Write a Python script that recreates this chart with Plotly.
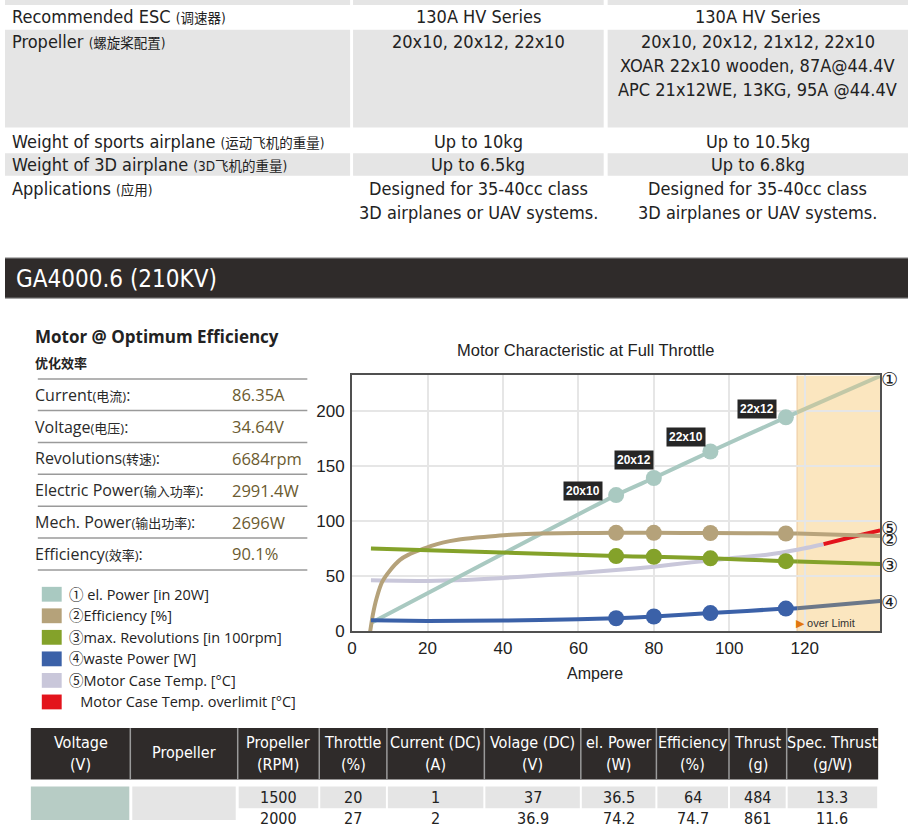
import plotly.graph_objects as go

W, H = 908, 830   # figure size; design coordinates are reference pixels

# ---------------- data ----------------
x_ticks = [0, 20, 40, 60, 80, 100, 120]
y_ticks = [0, 50, 100, 150, 200]
overlimit_start = 118
x_max = 140
y_max = 232

marker_amps = [70, 80, 95, 115]
prop_labels = ["20x10", "20x12", "22x10", "22x12"]

el_power_x = [5, 70, 80, 95, 115, 118]
el_power_y = [7.5, 123.5, 139, 163, 194, 198.5]
el_power_over_x = [118, 140]
el_power_over_y = [198.5, 231.5]
el_power_pts = [123.5, 139, 163, 194]

eff_x = [4.8, 5.5, 6.5, 8, 10, 12.7, 15, 18, 21, 24, 28, 33, 38, 42, 50, 60, 70, 80, 95, 115, 118]
eff_y = [0, 15, 30, 45, 55, 64.8, 69.5, 73.7, 77.5, 80.4, 83, 85, 86.5, 87.5, 88.7, 89.1, 89.3, 89.3, 89.1, 88.7, 88.6]
eff_over_x = [118, 140]
eff_over_y = [88.6, 86.5]
eff_pts = [89.3, 89.3, 89.1, 88.7]

rev_x = [5, 70, 80, 95, 115, 118]
rev_y = [75, 68.2, 67.6, 66.2, 63.6, 63.3]
rev_over_x = [118, 140]
rev_over_y = [63.3, 61]
rev_pts = [68.2, 67.6, 66.2, 63.6]

waste_x = [5, 20, 40, 60, 70, 80, 95, 115, 118]
waste_y = [10, 9.3, 9.8, 11, 11.8, 13.4, 16.5, 20.6, 21]
waste_over_x = [118, 140]
waste_over_y = [21, 27.5]
waste_pts = [11.8, 13.4, 16.5, 20.6]

temp_x = [5, 20, 30, 40, 50, 60, 70, 80, 90, 100, 110, 118, 125]
temp_y = [46.3, 45.7, 46.5, 48.4, 50.5, 52.9, 55.5, 58.5, 62.5, 66, 69.5, 74, 79]
temp_over_x = [125, 132, 140]
temp_over_y = [79, 85, 91.5]

curve_tags = ["①", "⑤", "②", "③", "④"]
curve_tag_y = [229, 94, 83.5, 60, 27]

opt_title = "Motor @ Optimum Efficiency"
opt_title_cn = "优化效率"
opt_labels = ["Current", "Voltage", "Revolutions", "Electric Power", "Mech. Power", "Efficiency"]
opt_cn = ["电流", "电压", "转速", "输入功率", "输出功率", "效率"]
opt_values = ["86.35A", "34.64V", "6684rpm", "2991.4W", "2696W", "90.1%"]

legend_names = ["① el. Power [in 20W]", "②Efficiency [%]", "③max. Revolutions [in 100rpm]",
                "④waste Power [W]", "⑤Motor Case Temp. [°C]", "&nbsp;&nbsp;&nbsp;Motor Case Temp. overlimit [°C]"]

spec_rows = [
    ("Recommended ESC", "调速器", ["130A HV Series"], ["130A HV Series"]),
    ("Propeller", "螺旋桨配置", ["20x10, 20x12, 22x10"],
     ["20x10, 20x12, 21x12, 22x10", "XOAR 22x10 wooden, 87A@44.4V", "APC 21x12WE, 13KG, 95A @44.4V"]),
    ("Weight of sports airplane", "运动飞机的重量", ["Up to 10kg"], ["Up to 10.5kg"]),
    ("Weight of 3D airplane", "3D飞机的重量", ["Up to 6.5kg"], ["Up to 6.8kg"]),
    ("Applications", "应用", ["Designed for 35-40cc class", "3D airplanes or UAV systems."],
     ["Designed for 35-40cc class", "3D airplanes or UAV systems."]),
]
banner_text = "GA4000.6 (210KV)"

table_header = [("Voltage", "(V)"), ("Propeller", ""), ("Propeller", "(RPM)"), ("Throttle", "(%)"),
                ("Current (DC)", "(A)"), ("Volage (DC)", "(V)"), ("el. Power", "(W)"),
                ("Efficiency", "(%)"), ("Thrust", "(g)"), ("Spec. Thrust", "(g/W)")]
table_row1 = ["1500", "20", "1", "37", "36.5", "64", "484", "13.3"]
table_row2 = ["2000", "27", "2", "36.9", "74.2", "74.7", "861", "11.6"]

# ---------------- styles ----------------
C_TEAL = "#a9c9c1"
C_TAN = "#b5a27a"
C_GREEN = "#84a22a"
C_BLUE = "#3b61a8"
C_LAV = "#c9c7da"
C_RED = "#e3141c"
COND = "Liberation Sans Narrow, DejaVu Sans Condensed, Roboto, Noto Sans CJK SC, sans-serif"
HUM = "Open Sans, Noto Sans, Noto Sans CJK SC, sans-serif"
ARIAL = "Liberation Sans, Arial, sans-serif"
GRAY = "#e5e5e5"
LPAD = 5  # annotation inner padding compensation for left-anchored texts


def px(x):
    return x / W


def py(y):
    return 1 - y / H


shapes = []
annots = []


def rect(x0, y0, x1, y1, color, layer="below"):
    shapes.append(dict(type="rect", xref="paper", yref="paper", x0=px(x0), x1=px(x1),
                       y0=py(y1), y1=py(y0), fillcolor=color, line=dict(width=0), layer=layer))


def hline(x0, x1, y, color, width=1.5):
    shapes.append(dict(type="line", xref="paper", yref="paper", x0=px(x0), x1=px(x1),
                       y0=py(y), y1=py(y), line=dict(color=color, width=width)))


def vline(x, y0, y1, color, width=1.5):
    shapes.append(dict(type="line", xref="paper", yref="paper", x0=px(x), x1=px(x),
                       y0=py(y0), y1=py(y1), line=dict(color=color, width=width)))


def text(x, y, s, size, color="#222", anchor="left", family=COND, bold=False):
    if bold:
        s = "<b>" + s + "</b>"
    if anchor == "left":
        x = x - LPAD
    annots.append(dict(xref="paper", yref="paper", x=px(x), y=py(y), text=s, showarrow=False,
                       xanchor=anchor, yanchor="middle",
                       font=dict(size=size, color=color, family=family)))


# ---------- top spec table ----------
col_mid = [476, 757]
rect(0, 0, 347, 5, GRAY); rect(350, 0, 602, 5, GRAY); rect(606, 0, W, 5, GRAY)
row_bounds = [(5, 30, False), (30, 129, True), (131, 154, False), (155, 178, True), (179, 230, False)]
for (label, cn, mid, right), (y0, y1, grey) in zip(spec_rows, row_bounds):
    if grey:
        rect(0, y0, 347, y1, GRAY); rect(350, y0, 602, y1, GRAY); rect(606, y0, W, y1, GRAY)
    ty = y0 + 12
    text(10, ty, f"{label} <span style='font-size:13.5px'>({cn})</span>", 18, "#222")
    for i, s in enumerate(mid):
        text(col_mid[0], ty + 24.5 * i, s, 18, "#222", "center")
    for i, s in enumerate(right):
        text(col_mid[1], ty + 24.5 * i, s, 18, "#222", "center")

# ---------- banner ----------
rect(0, 261, W, 302, "#2f2b2a")
hline(0, W, 261.5, "#6a6a6a", 1)
hline(0, W, 301.5, "#6a6a6a", 1)
text(14, 282, banner_text, 24, "#ffffff")

# ---------- left info panel ----------
text(33, 341, opt_title, 17, "#222", family=HUM, bold=True)
text(33, 367, opt_title_cn, 13, "#222", family=HUM, bold=True)
row_lines = [383.5, 415.5, 448, 480, 512.5, 544.5, 577]
for yl in row_lines:
    hline(33, 304, yl, "#9a9a9a", 1.5)
for i, (lab, cn, val) in enumerate(zip(opt_labels, opt_cn, opt_values)):
    yc = (row_lines[i] + row_lines[i + 1]) / 2
    text(33, yc, f"{lab}<span style='font-size:13px'>({cn})</span>:", 16, "#2a2a2a", family=HUM)
    text(231, yc, val, 16.5, "#6b5b30", family=HUM)

legend_colors = [C_TEAL, C_TAN, C_GREEN, C_BLUE, C_LAV, C_RED]
for i, (name, col) in enumerate(zip(legend_names, legend_colors)):
    yc = 601.5 + 21.8 * i
    rect(37, yc - 7.5, 57, yc + 7.5, col, layer="above")
    text(67, yc, name, 14.5, "#222", family=HUM)

# ---------- bottom table ----------
col_edges = [26, 126, 234, 316, 384, 482, 579, 655, 728, 786, 878]
rect(26, 737, 878, 789, "#2f2b2a")
for xe in col_edges[1:-1]:
    vline(xe, 737, 789, "#9a9a9a", 1.5)
for i, (l1, l2) in enumerate(table_header):
    xc = (col_edges[i] + col_edges[i + 1]) / 2
    if l2:
        text(xc, 752, l1, 16, "#ffffff", "center")
        text(xc, 774, l2, 16, "#ffffff", "center")
    else:
        text(xc, 762, l1, 16, "#ffffff", "center")
rect(26, 796, 125, 830, "#b7ccc5")
rect(128, 796, 232, 830, GRAY)
for i in range(2, 10):
    rect(col_edges[i] + 1, 796, col_edges[i + 1] - 1, 818, GRAY)
for i in range(8):
    xc = (col_edges[i + 2] + col_edges[i + 3]) / 2
    text(xc, 807, table_row1[i], 16, "#222", "center")
    text(xc, 828, table_row2[i], 16, "#222", "center")

# ---------- chart ----------
fig = go.Figure()


def line(xs, ys, color, width=4):
    fig.add_trace(go.Scatter(x=xs, y=ys, mode="lines",
                             line=dict(color=color, width=width, shape="spline", smoothing=0.6),
                             hoverinfo="skip", showlegend=False, cliponaxis=True))


line(temp_x, temp_y, C_LAV)
line(temp_over_x, temp_over_y, C_RED)
line(el_power_x, el_power_y, C_TEAL)
line(el_power_over_x, el_power_over_y, "#c2c8a7")
line(eff_x, eff_y, C_TAN)
line(eff_over_x, eff_over_y, "#b8a47c")
line(rev_x, rev_y, C_GREEN)
line(rev_over_x, rev_over_y, C_GREEN)
line(waste_x, waste_y, C_BLUE)
line(waste_over_x, waste_over_y, "#6c7889")

for ys, col in [(el_power_pts, C_TEAL), (eff_pts, C_TAN), (rev_pts, C_GREEN), (waste_pts, C_BLUE)]:
    fig.add_trace(go.Scatter(x=marker_amps, y=ys, mode="markers",
                             marker=dict(color=col, size=16, line=dict(width=0)),
                             hoverinfo="skip", showlegend=False))

label_shift = [(-33, 4), (-20, 18), (-24, 15), (-29, 8)]
for a, v, lab, (dx, dy) in zip(marker_amps, el_power_pts, prop_labels, label_shift):
    annots.append(dict(x=a, y=v, xref="x", yref="y", text=f"<b>{lab}</b>", showarrow=False,
                       xshift=dx, yshift=dy, bgcolor="#262626", borderpad=2,
                       font=dict(size=12, color="white", family=ARIAL)))

for tag, ty in zip(curve_tags, curve_tag_y):
    annots.append(dict(x=x_max, y=ty, xref="x", yref="y", text=tag, showarrow=False,
                       xanchor="left", xshift=-1,
                       font=dict(size=19, color="#222", family="DejaVu Sans, Noto Sans CJK SC")))

annots.append(dict(x=overlimit_start, y=waste_over_y[0], xref="x", yref="y",
                   text="<span style='color:#e2760f'>▶</span> over Limit", showarrow=False,
                   xanchor="left", xshift=-3, yshift=-15,
                   font=dict(size=11, color="#333", family=ARIAL)))

shapes.append(dict(type="rect", xref="x", yref="y", x0=overlimit_start, x1=x_max, y0=0, y1=y_max,
                   fillcolor="#fbe6bf", line=dict(width=0), layer="below"))
shapes.append(dict(type="line", xref="x", yref="y", x0=overlimit_start, x1=overlimit_start, y0=0, y1=y_max,
                   line=dict(color="#f1d4ae", width=1.5), layer="below"))

text(584, 354, "Motor Characteristic at Full Throttle", 16.5, "#222", "center", family=ARIAL)
text(593, 682, "Ampere", 16, "#222", "center", family=ARIAL)

fig.update_layout(
    width=W, height=H, margin=dict(l=0, r=0, t=0, b=0),
    paper_bgcolor="white", plot_bgcolor="white",
    shapes=shapes, annotations=annots, showlegend=False,
    xaxis=dict(domain=[px(349), px(880)], range=[0, x_max], tickvals=x_ticks,
               showgrid=True, gridcolor="#e6e6e6", gridwidth=1.5, zeroline=False,
               showline=True, mirror=True, linecolor="#505050", linewidth=2,
               ticks="", tickfont=dict(size=17, color="#222", family=ARIAL)),
    yaxis=dict(domain=[py(639), py(380)], range=[0, y_max], tickvals=y_ticks,
               showgrid=True, gridcolor="#e6e6e6", gridwidth=1.5, zeroline=False,
               showline=True, mirror=True, linecolor="#505050", linewidth=2,
               ticks="", ticklabelstandoff=2, tickfont=dict(size=17, color="#222", family=ARIAL)),
)

fig.write_html("out.html")
